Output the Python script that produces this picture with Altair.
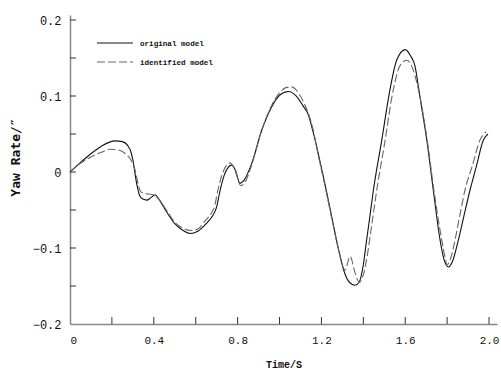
import altair as alt
import pandas as pd

# ---- data ----
t_orig = [0.0, 0.048, 0.095, 0.15, 0.215, 0.25, 0.275, 0.29, 0.30, 0.318, 0.334, 0.35, 0.366, 0.385,
          0.406, 0.425, 0.46, 0.50, 0.54, 0.573, 0.61, 0.65, 0.68, 0.70, 0.715, 0.735, 0.755, 0.772,
          0.79, 0.811, 0.83, 0.867, 0.915, 0.963, 1.00, 1.042, 1.08, 1.11, 1.138, 1.16, 1.185, 1.22,
          1.25, 1.28, 1.305, 1.33, 1.36, 1.38, 1.40, 1.416, 1.432, 1.448, 1.488, 1.527, 1.559, 1.60,
          1.625, 1.647, 1.663, 1.683, 1.703, 1.734, 1.766, 1.785, 1.806, 1.825, 1.854, 1.88, 1.909,
          1.94, 1.973, 1.995]
v_orig = [0.0, 0.012, 0.023, 0.034, 0.041, 0.040, 0.035, 0.027, 0.016, -0.015, -0.032, -0.036, -0.037,
          -0.034, -0.030, -0.036, -0.052, -0.068, -0.077, -0.081, -0.078, -0.068, -0.058, -0.046,
          -0.026, -0.005, 0.006, 0.009, 0.002, -0.015, -0.011, 0.011, 0.055, 0.086, 0.101, 0.106,
          0.100, 0.088, 0.075, 0.053, 0.024, -0.020, -0.060, -0.100, -0.128, -0.144, -0.149, -0.145,
          -0.122, -0.089, -0.057, -0.024, 0.042, 0.108, 0.147, 0.161, 0.153, 0.139, 0.112, 0.077,
          0.042, -0.024, -0.089, -0.115, -0.125, -0.118, -0.089, -0.058, -0.024, 0.008, 0.042, 0.050]

t_ident = [0.0, 0.048, 0.095, 0.15, 0.19, 0.23, 0.265, 0.29, 0.31, 0.334, 0.35, 0.375, 0.40, 0.425,
           0.46, 0.50, 0.54, 0.575, 0.61, 0.645, 0.675, 0.69, 0.705, 0.725, 0.745, 0.764, 0.785,
           0.816, 0.84, 0.87, 0.915, 0.963, 1.00, 1.03, 1.058, 1.09, 1.115, 1.138, 1.16, 1.185, 1.22,
           1.25, 1.28, 1.313, 1.337, 1.36, 1.38, 1.40, 1.42, 1.44, 1.464, 1.50, 1.543, 1.575, 1.607,
           1.63, 1.66, 1.685, 1.705, 1.737, 1.774, 1.79, 1.80, 1.815, 1.838, 1.86, 1.885, 1.92,
           1.957, 1.986]
v_ident = [0.0, 0.011, 0.019, 0.026, 0.030, 0.029, 0.024, 0.016, 0.003, -0.024, -0.028, -0.029,
           -0.030, -0.036, -0.050, -0.066, -0.074, -0.077, -0.075, -0.064, -0.054, -0.045, -0.025,
           -0.004, 0.008, 0.012, 0.004, -0.018, -0.011, 0.012, 0.055, 0.088, 0.104, 0.111, 0.112,
           0.104, 0.092, 0.077, 0.056, 0.022, -0.022, -0.062, -0.100, -0.129, -0.111, -0.132, -0.145,
           -0.135, -0.108, -0.070, -0.024, 0.035, 0.108, 0.140, 0.147, 0.140, 0.112, 0.077, 0.042,
           -0.024, -0.089, -0.112, -0.122, -0.115, -0.089, -0.058, -0.024, 0.008, 0.042, 0.053]

x_label_values = [0, 0.4, 0.8, 1.2, 1.6, 2.0]
y_label_values = [-0.2, -0.1, 0, 0.1, 0.2]
x_tick_values = [0.2, 0.4, 0.6, 0.8, 1.0, 1.2, 1.4, 1.6, 1.8, 2.0]
y_tick_values = [-0.15, -0.1, -0.05, 0, 0.05, 0.1, 0.15, 0.2]

series_names = ["original model", "identified model"]

W, H = 427, 309
XDOM = [0, 2.038]
YDOM = [-0.2, 0.2066]

df_o = pd.DataFrame({"t": t_orig, "v": v_orig})
df_i = pd.DataFrame({"t": t_ident, "v": v_ident})
df_xt = pd.DataFrame({"t": x_tick_values})
df_yt = pd.DataFrame({"v": y_tick_values})

xscale = alt.Scale(domain=XDOM, nice=False, zero=False)
yscale = alt.Scale(domain=YDOM, nice=False, zero=False)

lab_expr = "datum.value == 0 ? '0' : format(datum.value, '.1f')"

x_axis = alt.Axis(values=x_label_values, labelExpr=lab_expr, ticks=False, grid=False,
                  domainColor="#888888", domainWidth=1.5, labelFont="Liberation Mono",
                  labelFontSize=11, labelColor="#111111", labelPadding=10,
                  title="Time/S", titleFont="Liberation Mono", titleFontSize=10,
                  titleFontWeight="bold", titleColor="#111111", titleY=40,
                  titleBaseline="middle")
y_axis = alt.Axis(values=y_label_values, labelExpr=lab_expr, ticks=False, grid=False,
                  domainColor="#888888", domainWidth=1.5, labelFont="Liberation Mono",
                  labelFontSize=12, labelColor="#111111", labelPadding=9,
                  title="Yaw Rate/″", titleFont="DejaVu Sans Mono", titleFontSize=13,
                  titleFontWeight="bold", titleColor="#111111", titleX=-55, titleY=142,
                  titleBaseline="middle", titleAlign="center")

line_o = alt.Chart(df_o).mark_line(color="#111111", strokeWidth=1.1, interpolate="monotone").encode(
    x=alt.X("t:Q", scale=xscale, axis=x_axis),
    y=alt.Y("v:Q", scale=yscale, axis=y_axis),
)
line_i = alt.Chart(df_i).mark_line(color="#666666", strokeWidth=1.1, strokeDash=[8, 3],
                                   interpolate="monotone").encode(
    x=alt.X("t:Q", scale=xscale),
    y=alt.Y("v:Q", scale=yscale),
)

xticks = alt.Chart(df_xt).mark_rule(color="#333333", strokeWidth=1).encode(
    x=alt.X("t:Q", scale=xscale),
    y=alt.value(H), y2=alt.value(H - 7),
)
yticks = alt.Chart(df_yt).mark_rule(color="#333333", strokeWidth=1).encode(
    y=alt.Y("v:Q", scale=yscale),
    x=alt.value(0), x2=alt.value(6),
)

# manual legend
leg1 = alt.Chart(pd.DataFrame({"s": [series_names[0]]})).mark_rule(color="#111111", strokeWidth=1.1).encode(
    x=alt.value(27), x2=alt.value(63), y=alt.value(28))
leg2 = alt.Chart(pd.DataFrame({"s": [series_names[1]]})).mark_rule(color="#666666", strokeWidth=1.1,
                                                                 strokeDash=[8, 3]).encode(
    x=alt.value(27), x2=alt.value(63), y=alt.value(47))
legt1 = alt.Chart(pd.DataFrame({"s": [series_names[0]]})).mark_text(
    align="left", baseline="middle", font="Liberation Mono", fontSize=7.6, fontWeight="bold",
    color="#111111").encode(x=alt.value(70), y=alt.value(29), text="s:N")
legt2 = alt.Chart(pd.DataFrame({"s": [series_names[1]]})).mark_text(
    align="left", baseline="middle", font="Liberation Mono", fontSize=7.6, fontWeight="bold",
    color="#111111").encode(x=alt.value(70), y=alt.value(48), text="s:N")

chart = alt.layer(line_o, line_i, xticks, yticks, leg1, leg2, legt1, legt2).properties(
    width=W, height=H,
    autosize=alt.AutoSizeParams(type="none"),
    padding={"left": 70, "top": 15, "right": 4, "bottom": 49},
    background="white",
).configure_view(stroke=None)

chart.save("out.html", embed_options={"renderer": "svg", "actions": False})
